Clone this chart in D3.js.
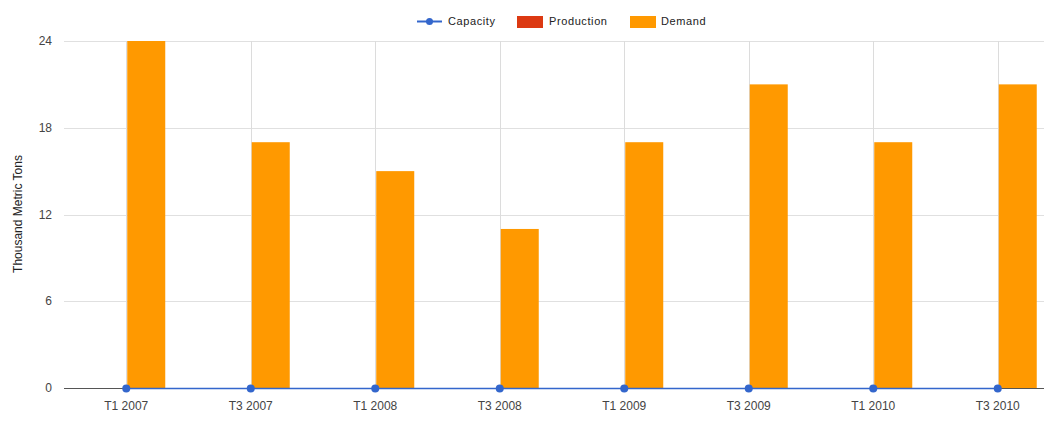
<!DOCTYPE html>
<html>
<head>
<meta charset="utf-8">
<script src="https://cdn.jsdelivr.net/npm/d3@7"></script>
<style>
  body { margin: 0; background: #fff; }
  svg { display: block; font-family: "Liberation Sans", Arial, sans-serif; }
</style>
</head>
<body>
<svg id="chart" width="1044" height="421"></svg>
<script>
// data
var periods = ["T1 2007", "T3 2007", "T1 2008", "T3 2008", "T1 2009", "T3 2009", "T1 2010", "T3 2010"];
var capacity = [0, 0, 0, 0, 0, 0, 0, 0];
var production = [0, 0, 0, 0, 0, 0, 0, 0];
var demand = [24, 17, 15, 11, 17, 21, 17, 21];
var yTicks = [0, 6, 12, 18, 24];

var svg = d3.select("#chart");
var plotLeft = 64, plotRight = 1060, plotTop = 41, plotBottom = 388;

var x = d3.scaleBand().domain(periods).range([plotLeft, plotRight]);
var y = d3.scaleLinear().domain([0, 24]).range([plotBottom, plotTop]);
var barW = 38;

function mid(p) { return x(p) + x.bandwidth() / 2; }

// horizontal grid
svg.append("g").selectAll("line").data(yTicks).enter().append("line")
  .attr("x1", plotLeft).attr("x2", plotRight)
  .attr("y1", function(d) { return Math.round(y(d)) + 0.5; })
  .attr("y2", function(d) { return Math.round(y(d)) + 0.5; })
  .style("stroke", "#e0e0e0");

// vertical grid at category centers
svg.append("g").selectAll("line").data(periods).enter().append("line")
  .attr("x1", function(d) { return Math.round(mid(d)) + 0.5; })
  .attr("x2", function(d) { return Math.round(mid(d)) + 0.5; })
  .attr("y1", plotTop).attr("y2", plotBottom)
  .style("stroke", "#dcdcdc");

// y tick labels
svg.append("g").selectAll("text").data(yTicks).enter().append("text")
  .attr("x", 52).attr("y", function(d) { return y(d) + 4; })
  .attr("text-anchor", "end")
  .style("font-size", "12px").style("fill", "#444")
  .text(function(d) { return d; });

// x labels
svg.append("g").selectAll("text").data(periods).enter().append("text")
  .attr("x", mid)
  .attr("y", 410)
  .attr("text-anchor", "middle")
  .style("font-size", "12px").style("fill", "#444")
  .text(function(d) { return d; });

// y title
svg.append("text")
  .attr("transform", "translate(22,214) rotate(-90)")
  .attr("text-anchor", "middle")
  .style("font-size", "12px").style("fill", "#222")
  .text("Thousand Metric Tons");

// production bars (left of center)
svg.append("g").selectAll("rect").data(production).enter().append("rect")
  .attr("x", function(d, i) { return mid(periods[i]) - barW; })
  .attr("y", function(d) { return y(d); })
  .attr("width", barW)
  .attr("height", function(d) { return y(0) - y(d); })
  .style("fill", "#dc3912");

// demand bars (right of center)
svg.append("g").selectAll("rect").data(demand).enter().append("rect")
  .attr("x", function(d, i) { return mid(periods[i]) + 1; })
  .attr("y", function(d) { return y(d); })
  .attr("width", barW)
  .attr("height", function(d) { return y(0) - y(d); })
  .style("fill", "#ff9900");

// baseline
svg.append("line")
  .attr("x1", plotLeft).attr("x2", plotRight)
  .attr("y1", plotBottom + 0.5).attr("y2", plotBottom + 0.5)
  .style("stroke", "#555");

// capacity line
var line = d3.line()
  .x(function(d, i) { return mid(periods[i]); })
  .y(function(d) { return y(d) + 0.5; });

svg.append("path").datum(capacity)
  .attr("d", line)
  .style("fill", "none").style("stroke", "#3366cc").style("stroke-width", 1.5);

svg.append("g").selectAll("circle").data(capacity).enter().append("circle")
  .attr("cx", function(d, i) { return mid(periods[i]); })
  .attr("cy", function(d) { return y(d) + 0.5; })
  .attr("r", 4)
  .style("fill", "#3366cc");

// legend
var lg = svg.append("g").style("font-size", "11px").style("fill", "#222").style("letter-spacing", "0.6px");
lg.append("line").attr("x1", 417).attr("x2", 442).attr("y1", 21.5).attr("y2", 21.5)
  .style("stroke", "#3366cc").style("stroke-width", 2);
lg.append("circle").attr("cx", 429.5).attr("cy", 21.5).attr("r", 3.5).style("fill", "#3366cc");
lg.append("text").attr("x", 448).attr("y", 25).text("Capacity");
lg.append("rect").attr("x", 517).attr("y", 16).attr("width", 26).attr("height", 12).style("fill", "#dc3912");
lg.append("text").attr("x", 549).attr("y", 25).text("Production");
lg.append("rect").attr("x", 630).attr("y", 16).attr("width", 26).attr("height", 12).style("fill", "#ff9900");
lg.append("text").attr("x", 661).attr("y", 25).text("Demand");
</script>
</body>
</html>
